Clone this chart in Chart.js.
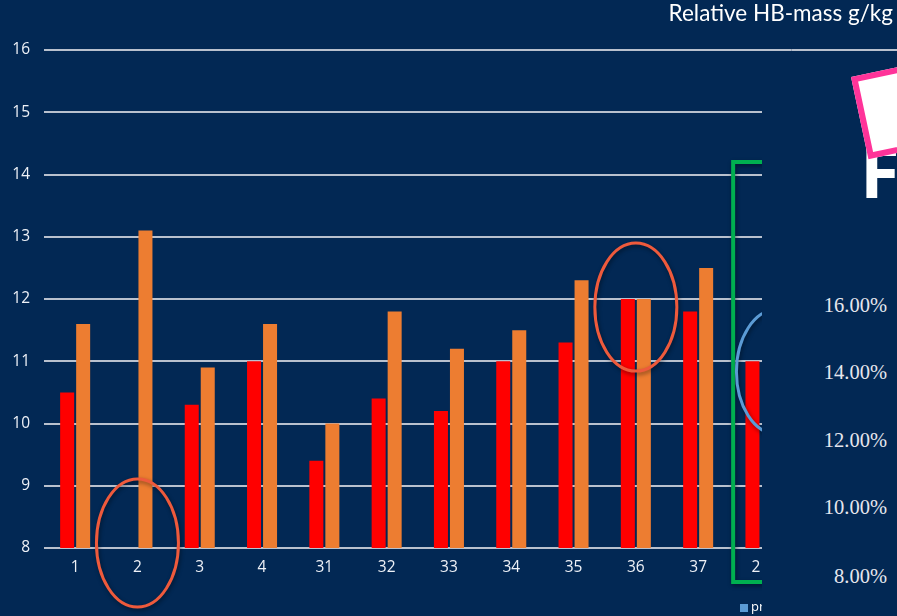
<!DOCTYPE html>
<html>
<head>
<meta charset="utf-8">
<script src="https://cdn.jsdelivr.net/npm/chart.js@4.4.1/dist/chart.umd.min.js"></script>
<style>
  html, body { margin: 0; padding: 0; background: #022854; }
  #stage { position: relative; width: 897px; height: 616px; overflow: hidden; background: #022854; }
  #chartBox { position: absolute; left: 0; top: 0; width: 897px; height: 616px; }
  #title { position: absolute; right: 4px; top: -1px; color: #ffffff; font: 22.5px Lato, "Open Sans", sans-serif; white-space: nowrap; }
  #legendPr { position: absolute; left: 740px; top: 597px; color: #ffffff; font: 13px "Open Sans", sans-serif; white-space: nowrap; }
  #legendPr i { display: inline-block; width: 8px; height: 8px; background: #5b9bd5; margin-right: 3px; vertical-align: -1px; }
  #panel { position: absolute; left: 762px; top: 52px; width: 135px; height: 564px; background: #022854; overflow: hidden; }
  .pct { position: absolute; right: 10px; color: #e6e6ee; font: 20.5px "Liberation Serif", "DejaVu Serif", serif; white-space: nowrap; }
  #bigF { position: absolute; left: 98px; top: 82px; color: #ffffff; font: 700 72px "Open Sans", sans-serif; line-height: 1; }
  #note { position: absolute; left: 89px; top: 25px; width: 110px; height: 72px; background: #ffffff; border: 6px solid #ff3399; transform-origin: 0 0; transform: rotate(-12deg); }
</style>
</head>
<body>
<div id="stage">
  <div id="chartBox"><canvas id="hb"></canvas></div>
  <div id="title">Relative HB-mass g/kg</div>
  <div id="legendPr"><i></i>pre</div>
  <div id="panel">
    <div id="bigF">F</div>
    <div id="note"></div>
    <div class="pct" style="top:242px">16.00%</div>
    <div class="pct" style="top:309px">14.00%</div>
    <div class="pct" style="top:377px">12.00%</div>
    <div class="pct" style="top:444px">10.00%</div>
    <div class="pct" style="top:513px">8.00%</div>
  </div>
</div>
<script>
// Subjects shown along the x axis
const subjects = ['1', '2', '3', '4', '31', '32', '33', '34', '35', '36', '37', '21'];
// Relative haemoglobin mass (g/kg), first and second measurement
const firstTest  = [10.5, null, 10.3, 11.0, 9.4, 10.4, 10.2, 11.0, 11.3, 12.0, 11.8, 11.0];
const secondTest = [11.6, 13.1, 10.9, 11.6, 10.0, 11.8, 11.2, 11.5, 12.3, 12.0, 12.5, null];
// Value axis ticks
const yMin = 8, yMax = 16, yStep = 1;

const tickFont = { family: '"Open Sans", sans-serif', size: 15.5, weight: '500' };
const tickColor = '#eef1f7';
const gridColor = 'rgba(205,210,220,0.9)';

// Hand-drawn style highlights on top of the bars
const highlights = {
  id: 'highlights',
  afterDatasetsDraw(chart) {
    const { ctx, chartArea, scales: { x, y } } = chart;
    ctx.save();
    // top gridline continues across to the canvas edge
    ctx.strokeStyle = gridColor;
    ctx.lineWidth = 2;
    ctx.beginPath();
    ctx.moveTo(chartArea.right, y.getPixelForValue(yMax));
    ctx.lineTo(chart.width, y.getPixelForValue(yMax));
    ctx.stroke();

    ctx.shadowColor = 'rgba(0,0,0,0.45)';
    ctx.shadowBlur = 4;
    ctx.shadowOffsetX = 1;
    ctx.shadowOffsetY = 2;

    // green frame around the last group
    ctx.strokeStyle = '#00b050';
    ctx.lineWidth = 4;
    const gx = x.getPixelForValue(10) + 35;
    ctx.beginPath();
    ctx.moveTo(chart.width + 10, y.getPixelForValue(14.2));
    ctx.lineTo(gx, y.getPixelForValue(14.2));
    ctx.lineTo(gx, chartArea.bottom + 34);
    ctx.lineTo(chart.width + 10, chartArea.bottom + 34);
    ctx.stroke();

    // circled subjects
    ctx.lineWidth = 3;
    ctx.strokeStyle = '#ee5a3c';
    ctx.beginPath();
    ctx.ellipse(x.getPixelForValue(1), y.getPixelForValue(8.08), 41, 64, 0, 0, Math.PI * 2);
    ctx.stroke();
    ctx.beginPath();
    ctx.ellipse(x.getPixelForValue(9), y.getPixelForValue(11.87), 41, 64, 0, 0, Math.PI * 2);
    ctx.stroke();

    ctx.strokeStyle = '#5b9bd5';
    ctx.beginPath();
    ctx.ellipse(x.getPixelForValue(11) + 16, y.getPixelForValue(10.83), 40, 62, 0, 0, Math.PI * 2);
    ctx.stroke();
    ctx.restore();
  }
};

function drawChart() {
  new Chart(document.getElementById('hb'), {
    type: 'bar',
    data: {
      labels: subjects,
      datasets: [
        { label: 'Test 1', data: firstTest, backgroundColor: '#ff0000', barPercentage: 0.875, categoryPercentage: 0.514 },
        { label: 'Test 2', data: secondTest, backgroundColor: '#ed7d31', barPercentage: 0.875, categoryPercentage: 0.514 }
      ]
    },
    options: {
      responsive: true,
      maintainAspectRatio: false,
      animation: false,
      events: [],
      layout: { padding: { top: 50, right: 105.4, bottom: 0, left: 0 } },
      plugins: { legend: { display: false }, title: { display: false }, tooltip: { enabled: false } },
      scales: {
        x: {
          grid: { display: false, drawTicks: false },
          border: { display: false },
          ticks: { color: tickColor, font: tickFont, padding: 10, maxRotation: 0, autoSkip: false },
          afterFit(scale) { scale.height = 68; }
        },
        y: {
          min: yMin, max: yMax,
          grid: { color: gridColor, lineWidth: 2, drawTicks: false },
          border: { display: false },
          ticks: { stepSize: yStep, color: tickColor, font: tickFont, padding: 14 },
          afterFit(scale) { scale.width = 44; }
        }
      }
    },
    plugins: [highlights]
  });
}

// wait for the tick font so the canvas text uses it
document.fonts.load('500 15.5px "Open Sans"').then(drawChart, drawChart);
</script>
</body>
</html>
